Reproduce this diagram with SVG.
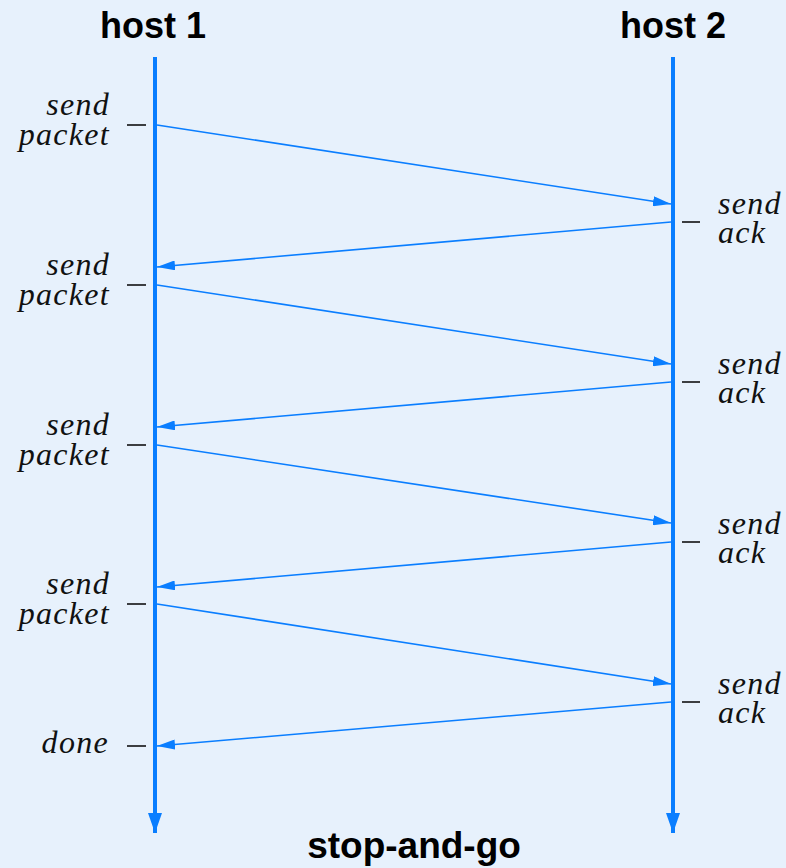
<svg xmlns="http://www.w3.org/2000/svg" width="786" height="868" viewBox="0 0 786 868">
<style>
.bg{fill:#E7F1FC}
.tl{stroke:#0A7EFF;stroke-width:4;fill:none}
.msg{stroke:#0A7EFF;stroke-width:1.6;fill:none}
.tick{stroke:#111;stroke-width:1.6}
.hd{font-family:"Liberation Sans",Arial,sans-serif;font-weight:bold;font-size:36px;fill:#000;text-anchor:middle}
.lb{font-family:"Liberation Serif","Times New Roman",serif;font-style:italic;font-size:32px;letter-spacing:1.3px;fill:#111}
.l{text-anchor:end}
</style>
<defs>
<marker id="ah" viewBox="0 0 18 10" refX="18" refY="5" markerWidth="18" markerHeight="10" markerUnits="userSpaceOnUse" orient="auto">
<path d="M0,0 L18,5 L0,10 Z" fill="#0A7EFF"/>
</marker>
<marker id="ahv" viewBox="0 0 20 14" refX="20" refY="7" markerWidth="20" markerHeight="14" markerUnits="userSpaceOnUse" orient="auto">
<path d="M0,0 L20,7 L0,14 Z" fill="#0A7EFF"/>
</marker>
</defs>
<rect class="bg" x="0" y="0" width="786" height="868"/>
<g id="host1">
<text class="hd" x="153" y="38">host 1</text>
<line class="tl" x1="155" y1="57" x2="155" y2="833" marker-end="url(#ahv)"/>
</g>
<g id="host2">
<text class="hd" x="673" y="38">host 2</text>
<line class="tl" x1="673" y1="57" x2="673" y2="833" marker-end="url(#ahv)"/>
</g>
<g id="labels-left">
<line class="tick" x1="127" y1="125" x2="146" y2="125"/>
<text class="lb l" x="110" y="115">send</text><text class="lb l" x="110" y="145">packet</text>
<line class="tick" x1="127" y1="285" x2="146" y2="285"/>
<text class="lb l" x="110" y="275">send</text><text class="lb l" x="110" y="305">packet</text>
<line class="tick" x1="127" y1="445" x2="146" y2="445"/>
<text class="lb l" x="110" y="435">send</text><text class="lb l" x="110" y="465">packet</text>
<line class="tick" x1="127" y1="604" x2="146" y2="604"/>
<text class="lb l" x="110" y="594">send</text><text class="lb l" x="110" y="624">packet</text>
<line class="tick" x1="127" y1="746" x2="146" y2="746"/>
<text class="lb l" x="109" y="753">done</text>
</g>
<g id="labels-right">
<line class="tick" x1="682" y1="222" x2="700" y2="222"/>
<text class="lb" x="718" y="214">send</text><text class="lb" x="718" y="243">ack</text>
<line class="tick" x1="682" y1="382" x2="700" y2="382"/>
<text class="lb" x="718" y="374">send</text><text class="lb" x="718" y="403">ack</text>
<line class="tick" x1="682" y1="542" x2="700" y2="542"/>
<text class="lb" x="718" y="534">send</text><text class="lb" x="718" y="563">ack</text>
<line class="tick" x1="682" y1="702" x2="700" y2="702"/>
<text class="lb" x="718" y="694">send</text><text class="lb" x="718" y="723">ack</text>
</g>
<g id="connectors">
<line class="msg" x1="157" y1="125" x2="671" y2="204" marker-end="url(#ah)"/>
<line class="msg" x1="671" y1="222" x2="157" y2="267" marker-end="url(#ah)"/>
<line class="msg" x1="157" y1="285" x2="671" y2="364" marker-end="url(#ah)"/>
<line class="msg" x1="671" y1="382" x2="157" y2="427" marker-end="url(#ah)"/>
<line class="msg" x1="157" y1="445" x2="671" y2="523" marker-end="url(#ah)"/>
<line class="msg" x1="671" y1="542" x2="157" y2="587" marker-end="url(#ah)"/>
<line class="msg" x1="157" y1="604" x2="671" y2="684" marker-end="url(#ah)"/>
<line class="msg" x1="671" y1="702" x2="157" y2="746" marker-end="url(#ah)"/>
</g>
<text class="hd" x="414" y="858" style="font-size:37px">stop-and-go</text>
</svg>
